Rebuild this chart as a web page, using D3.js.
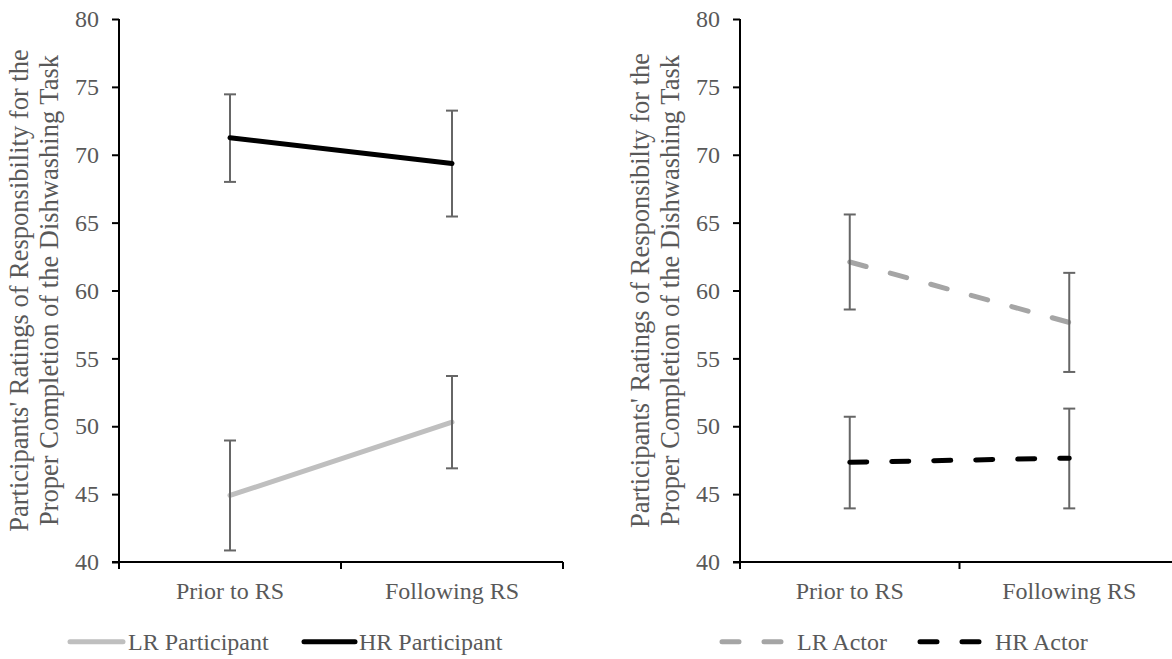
<!DOCTYPE html>
<html>
<head>
<meta charset="utf-8">
<script src="https://cdn.jsdelivr.net/npm/d3@7"></script>
<style>
  html, body { margin: 0; padding: 0; background: #fff; }
  svg { display: block; }
  text { font-family: "Liberation Serif", "Times New Roman", serif; fill: #595959; }
</style>
</head>
<body>
<svg id="chart" width="1172" height="659"></svg>
<script>
// Time points on the x axis
const phases = ["Prior to RS", "Following RS"];
const yTicks = [40, 45, 50, 55, 60, 65, 70, 75, 80];

// Left panel: participant responsibility ratings (mean, error half-widths)
const lrParticipant = [44.9, 50.3];
const lrParticipantErrUp = [4.05, 3.4];
const lrParticipantErrDown = [4.05, 3.4];
const hrParticipant = [71.25, 69.35];
const hrParticipantErrUp = [3.2, 3.9];
const hrParticipantErrDown = [3.25, 3.9];

// Right panel: actor responsibility ratings
const lrActor = [62.1, 57.65];
const lrActorErrUp = [3.5, 3.65];
const lrActorErrDown = [3.5, 3.65];
const hrActor = [47.35, 47.65];
const hrActorErrUp = [3.35, 3.65];
const hrActorErrDown = [3.4, 3.7];

const yTitleLeft = ["Participants' Ratings of Responsibility for the", "Proper Completion of the Dishwashing Task"];
const yTitleRight = ["Participants' Ratings of Responsibilty for the", "Proper Completion of the Dishwashing Task"];

const svg = d3.select("#chart");
const FONT = 24;
const TITLE_FONT = 26.5;

const y = d3.scaleLinear().domain([40, 80]).range([562, 19]);

function panel(opts) {
  const g = svg.append("g");
  const x = d3.scaleBand().domain(phases).range([opts.x0, opts.x1]);

  // y axis
  const yAxis = g.append("g")
    .attr("transform", `translate(${opts.x0},0)`)
    .call(d3.axisLeft(y).tickValues(yTicks).tickSize(7).tickPadding(13).tickFormat(d3.format("d")));
  yAxis.select(".domain").attr("stroke", "#000").attr("stroke-width", 2).attr("d", `M0,${y(80)}V${y(40)}`);
  yAxis.selectAll(".tick line").attr("stroke", "#000").attr("stroke-width", 2);
  yAxis.selectAll(".tick text").attr("font-size", FONT).attr("fill", "#595959")
    .style("font-family", "Liberation Serif");

  // x axis: labels centred on categories, ticks at category boundaries
  const xAxis = g.append("g")
    .attr("transform", `translate(0,${y(40)})`)
    .call(d3.axisBottom(x).tickSize(0).tickPadding(20));
  xAxis.select(".domain").attr("stroke", "#000").attr("stroke-width", 2).attr("d", `M${opts.x0 - 7},0H${opts.x1}`);
  xAxis.selectAll(".tick text").attr("font-size", FONT).attr("fill", "#595959")
    .style("font-family", "Liberation Serif");
  const bounds = [opts.x0, ...phases.map(p => x(p) + x.bandwidth())];
  g.selectAll(".xb").data(bounds).join("line")
    .attr("x1", d => d).attr("x2", d => d)
    .attr("y1", y(40)).attr("y2", y(40) + 7)
    .attr("stroke", "#000").attr("stroke-width", 2);

  // axis title (two rotated lines)
  const cy = (y(40) + y(80)) / 2;
  opts.title.forEach((t, i) => {
    g.append("text")
      .attr("transform", `translate(${opts.x0 - 91 + i * 30},${cy}) rotate(-90)`)
      .attr("text-anchor", "middle")
      .attr("font-size", TITLE_FONT)
      .text(t);
  });

  const cx = p => x(p) + x.bandwidth() / 2;
  const line = d3.line().x((d, i) => cx(phases[i])).y(d => y(d));

  function drawLine(s) {
    g.append("path").datum(s.values)
      .attr("d", line)
      .attr("fill", "none")
      .attr("stroke", s.color)
      .attr("stroke-width", 5)
      .attr("stroke-linecap", "round")
      .attr("stroke-linejoin", "round")
      .attr("stroke-dasharray", s.dash || null);
  }
  function drawErr(s) {
    s.values.forEach((v, i) => {
      const px = cx(phases[i]);
      const top = y(v + s.up[i]), bot = y(v - s.down[i]);
      g.append("line").attr("x1", px).attr("x2", px).attr("y1", top).attr("y2", bot)
        .attr("stroke", "#666").attr("stroke-width", 2);
      [top, bot].forEach(yy => g.append("line")
        .attr("x1", px - 6).attr("x2", px + 6).attr("y1", yy).attr("y2", yy)
        .attr("stroke", "#666").attr("stroke-width", 2));
    });
  }

  opts.series.filter(s => s.under).forEach(drawLine);
  opts.series.forEach(drawErr);
  opts.series.filter(s => !s.under).forEach(drawLine);

  // legend
  opts.series.forEach(s => {
    const lg = g.append("g");
    lg.append("line")
      .attr("x1", s.lx0).attr("x2", s.lx1).attr("y1", 641.7).attr("y2", 641.7)
      .attr("stroke", s.color).attr("stroke-width", 5)
      .attr("stroke-linecap", "round")
      .attr("stroke-dasharray", s.dash || null);
    lg.append("text")
      .attr("x", s.tx).attr("y", 641.7).attr("dy", "0.33em")
      .attr("font-size", FONT)
      .text(s.name);
  });
}

panel({
  x0: 119, x1: 563, title: yTitleLeft,
  series: [
    { name: "LR Participant", values: lrParticipant, up: lrParticipantErrUp, down: lrParticipantErrDown,
      color: "#bfbfbf", under: true, lx0: 70, lx1: 123, tx: 128 },
    { name: "HR Participant", values: hrParticipant, up: hrParticipantErrUp, down: hrParticipantErrDown,
      color: "#000", lx0: 304, lx1: 355, tx: 359 }
  ]
});

panel({
  x0: 740, x1: 1179, title: yTitleRight,
  series: [
    { name: "LR Actor", values: lrActor, up: lrActorErrUp, down: lrActorErrDown,
      color: "#a5a5a5", dash: "17,25", under: true, lx0: 722, lx1: 782, tx: 797 },
    { name: "HR Actor", values: hrActor, up: hrActorErrUp, down: hrActorErrDown,
      color: "#000", dash: "17,25", lx0: 920, lx1: 982, tx: 995 }
  ]
});
</script>
</body>
</html>
